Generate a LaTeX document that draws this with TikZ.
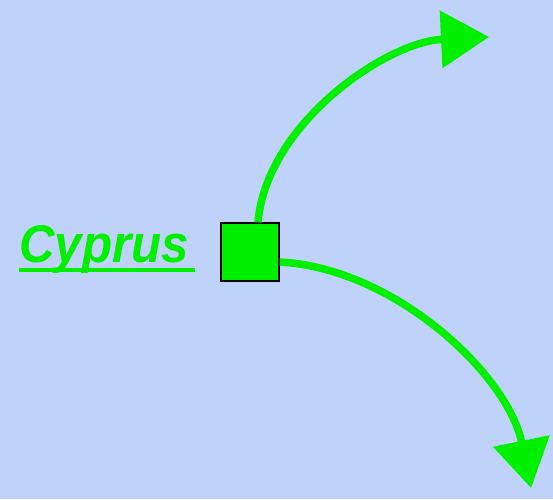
\documentclass[tikz,border=0pt]{standalone}
\usepackage{fontspec}
\setmainfont{Liberation Sans}
\usetikzlibrary{arrows.meta}
\definecolor{bgblue}{RGB}{190,210,250}
\definecolor{lime}{RGB}{0,240,0}
\tikzset{
  box/.style={draw=black, line width=1.5pt, fill=lime, minimum size=58pt, inner sep=0pt},
  label/.style={text=lime, font=\bfseries\itshape\fontsize{53}{56}\selectfont, inner sep=0pt, anchor=base west},
  link/.style={draw=lime, line width=7.5pt, -{Triangle[length=48pt,width=56pt]}}
}
\begin{document}
\begin{tikzpicture}[x=1pt,y=-1pt]
\fill[bgblue] (0,0) rectangle (553,499);
\useasboundingbox (0,0) rectangle (553,499);
\node[box] (sq) at (250,252) {};
\node[label] (txt) at (19,262) {\scalebox{0.93}[1]{Cyprus}};
\draw[lime, line width=4pt] (txt.base west) ++(0,8) -- ++(176,0);
\coordinate (t1) at (489,37);
\coordinate (t2) at (531,488);
\draw[link] (sq.north) ++(8,0) .. controls (266,125) and (385,42) .. (t1);
\draw[link] (sq.east) ++(0,10) .. controls (395,268) and (508,375) .. (t2);
\end{tikzpicture}
\end{document}
